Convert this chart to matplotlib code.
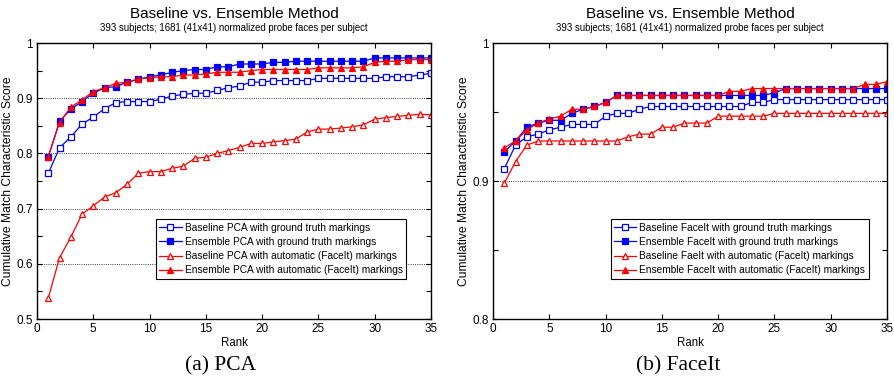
import numpy as np
import matplotlib
matplotlib.use('Agg')
from matplotlib import pyplot as plt
from matplotlib.ticker import MultipleLocator

plt.rcParams['font.family'] = ['Liberation Sans', 'DejaVu Sans']

ranks = np.arange(1, 36)

# (a) PCA
pca_base_gt = [0.764, 0.810, 0.830, 0.853, 0.866, 0.881, 0.892, 0.894, 0.894, 0.894,
               0.898, 0.904, 0.907, 0.909, 0.909, 0.914, 0.919, 0.922, 0.929, 0.929,
               0.932, 0.932, 0.932, 0.932, 0.936, 0.936, 0.936, 0.936, 0.936, 0.936,
               0.939, 0.939, 0.939, 0.942, 0.945]
pca_ens_gt = [0.794, 0.858, 0.880, 0.894, 0.909, 0.919, 0.921, 0.929, 0.934, 0.939,
              0.942, 0.947, 0.950, 0.952, 0.952, 0.957, 0.957, 0.962, 0.962, 0.962,
              0.965, 0.965, 0.967, 0.967, 0.967, 0.967, 0.967, 0.967, 0.967, 0.973,
              0.973, 0.973, 0.973, 0.973, 0.973]
pca_base_auto = [0.538, 0.611, 0.648, 0.690, 0.705, 0.721, 0.729, 0.744, 0.764, 0.767,
                 0.767, 0.773, 0.777, 0.791, 0.793, 0.800, 0.805, 0.811, 0.818, 0.818,
                 0.821, 0.823, 0.826, 0.839, 0.844, 0.844, 0.846, 0.848, 0.852, 0.862,
                 0.865, 0.867, 0.869, 0.871, 0.870]
pca_ens_auto = [0.794, 0.856, 0.884, 0.897, 0.912, 0.919, 0.927, 0.929, 0.935, 0.937,
                0.939, 0.939, 0.942, 0.942, 0.944, 0.947, 0.947, 0.947, 0.950, 0.952,
                0.952, 0.952, 0.952, 0.952, 0.955, 0.955, 0.955, 0.955, 0.957, 0.965,
                0.967, 0.967, 0.970, 0.970, 0.970]

# (b) FaceIt
fi_base_gt = [0.909, 0.926, 0.932, 0.934, 0.937, 0.939, 0.941, 0.941, 0.941, 0.947,
              0.949, 0.949, 0.952, 0.954, 0.954, 0.954, 0.954, 0.954, 0.954, 0.954,
              0.954, 0.954, 0.957, 0.957, 0.959, 0.959, 0.959, 0.959, 0.959, 0.959,
              0.959, 0.959, 0.959, 0.959, 0.959]
fi_ens_gt = [0.921, 0.929, 0.939, 0.942, 0.944, 0.944, 0.949, 0.952, 0.954, 0.957,
             0.962, 0.962, 0.962, 0.962, 0.962, 0.962, 0.962, 0.962, 0.962, 0.962,
             0.962, 0.962, 0.962, 0.962, 0.964, 0.967, 0.967, 0.967, 0.967, 0.967,
             0.967, 0.967, 0.967, 0.967, 0.967]
fi_base_auto = [0.8985, 0.914, 0.926, 0.929, 0.929, 0.929, 0.929, 0.929, 0.929, 0.929,
                0.929, 0.932, 0.934, 0.934, 0.939, 0.939, 0.942, 0.942, 0.942, 0.947,
                0.947, 0.947, 0.947, 0.947, 0.949, 0.949, 0.949, 0.949, 0.949, 0.949,
                0.949, 0.949, 0.949, 0.949, 0.949]
fi_ens_auto = [0.924, 0.929, 0.937, 0.942, 0.945, 0.947, 0.952, 0.952, 0.954, 0.957,
               0.962, 0.962, 0.962, 0.962, 0.962, 0.962, 0.962, 0.962, 0.962, 0.962,
               0.965, 0.965, 0.967, 0.967, 0.967, 0.967, 0.967, 0.967, 0.967, 0.967,
               0.967, 0.967, 0.970, 0.970, 0.972]

pca_labels = ['Baseline PCA with ground truth markings',
              'Ensemble PCA with ground truth markings',
              'Baseline PCA with automatic (FaceIt) markings',
              'Ensemble PCA with automatic (FaceIt) markings']
fi_labels = ['Baseline FaceIt with ground truth markings',
             'Ensemble FaceIt with ground truth markings',
             'Baseline FaeIt with automatic (FaceIt) markings',
             'Ensemble FaceIt with automatic (FaceIt) markings']

title = 'Baseline vs. Ensemble Method'
subtitle = '393 subjects; 1681 (41x41) normalized probe faces per subject'

styles = [dict(color='blue', marker='s', mfc='white', mec='blue'),
          dict(color='blue', marker='s', mfc='blue', mec='blue'),
          dict(color='red', marker='^', mfc='white', mec='red'),
          dict(color='red', marker='^', mfc='red', mec='red')]


def draw(ax, series, labels, ylim, anchor):
    for s, lab, st in zip(series, labels, styles):
        ax.plot(ranks, s, lw=0.9, ms=4, mew=0.9, label=lab, **st)
    ax.set_xlim(0, 35)
    ax.set_ylim(*ylim)
    ax.xaxis.set_major_locator(MultipleLocator(5))
    ax.yaxis.set_major_locator(MultipleLocator(0.1))
    ax.yaxis.set_minor_locator(MultipleLocator(0.05))
    ax.tick_params(which='both', direction='in', top=True, right=True, labelsize=8.5,
                   width=0.8, pad=3, length=3.5)
    ax.yaxis.set_major_formatter(plt.FuncFormatter(lambda v, p: ('%g' % round(v, 2))))
    ax.grid(axis='y', which='major', color='black', ls=':', lw=0.6)
    for sp in ax.spines.values():
        sp.set_linewidth(1.0)
    ax.set_xlabel('Rank', fontsize=8.3, labelpad=1)
    ax.set_ylabel('Cumulative Match Characteristic Score', fontsize=8.7, labelpad=2)
    ax.text(0.5, 1.09, title, transform=ax.transAxes, ha='center', va='baseline', fontsize=11)
    ax.text(0.5, 1.043, subtitle, transform=ax.transAxes, ha='center', va='baseline',
            fontsize=6.9)
    leg = ax.legend(loc='lower right', bbox_to_anchor=anchor, fontsize=7.3,
                    fancybox=False, edgecolor='black', framealpha=1, borderpad=0.35,
                    labelspacing=0.42, handlelength=2.2, handletextpad=0.3, borderaxespad=0)
    leg.get_frame().set_linewidth(0.8)


fig = plt.figure(figsize=(8.94, 3.79), dpi=100)
ax1 = fig.add_axes([0.0414, 0.1583, 0.4407, 0.7282])
ax2 = fig.add_axes([0.5515, 0.1583, 0.4407, 0.7282])

draw(ax1, [pca_base_gt, pca_ens_gt, pca_base_auto, pca_ens_auto], pca_labels, (0.5, 1.0),
     (0.937, 0.145))
draw(ax2, [fi_base_gt, fi_ens_gt, fi_base_auto, fi_ens_auto], fi_labels, (0.8, 1.0),
     (0.954, 0.145))

fig.text(221 / 894, 1 - 366 / 379, '(a) PCA', ha='center', va='center', fontsize=15.5,
         family='Liberation Serif')
fig.text(678 / 894, 1 - 366 / 379, '(b) FaceIt', ha='center', va='center', fontsize=15.5,
         family='Liberation Serif')

fig.savefig('out.png', dpi=100)
